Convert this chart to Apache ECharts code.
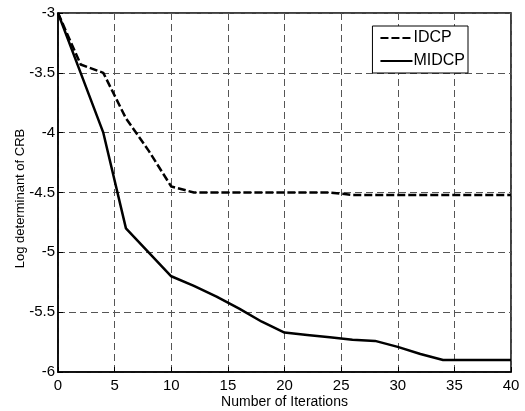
<!DOCTYPE html>
<html>
<head>
<meta charset="utf-8">
<script src="https://cdn.jsdelivr.net/npm/echarts@6/dist/echarts.min.js"></script>
<style>
  html, body { margin: 0; padding: 0; background: #fff; }
</style>
</head>
<body>
<div id="chart" style="width:525px;height:411px"></div>
<script>
// iterations and log det values
var idcpX = [0, 2, 4, 6, 8, 10, 12, 14, 16, 18, 20, 22, 24, 26, 28, 30, 32, 34, 36, 38, 40];
var idcpY = [-3, -3.43, -3.5, -3.88, -4.15, -4.45, -4.5, -4.5, -4.5, -4.5, -4.5, -4.5, -4.5, -4.52, -4.52, -4.52, -4.52, -4.52, -4.52, -4.52, -4.52];
var midcpX = [0, 2, 4, 6, 8, 10, 12, 14, 16, 18, 20, 22, 24, 26, 28, 30, 32, 34, 36, 38, 40];
var midcpY = [-3, -3.5, -4, -4.8, -5.0, -5.2, -5.28, -5.37, -5.47, -5.58, -5.67, -5.69, -5.71, -5.73, -5.74, -5.79, -5.85, -5.9, -5.9, -5.9, -5.9];

function pairs(xs, ys) {
  return xs.map(function (x, i) { return [x, ys[i]]; });
}

var chart = echarts.init(document.getElementById('chart'));
var font = 'Liberation Sans, Arial, sans-serif';
var gridLine = { show: true, lineStyle: { color: '#555', width: 1, type: [7, 4] } };

chart.setOption({
  animation: false,
  textStyle: { fontFamily: font, color: '#000' },
  grid: {
    left: 58, right: 14, top: 13, bottom: 39,
    outerBoundsMode: 'none', containLabel: false,
    show: true, borderColor: '#000', borderWidth: 1.5
  },
  legend: {
    right: 57, top: 26,
    orient: 'vertical',
    itemWidth: 32, itemHeight: 14, itemGap: 7,
    padding: [4, 3, 4, 7],
    backgroundColor: '#fff',
    borderColor: '#000', borderWidth: 1,
    itemStyle: { opacity: 0 },
    textStyle: { fontFamily: font, fontSize: 16, color: '#000', padding: [0, 0, 0, -4] },
    data: ['IDCP', 'MIDCP']
  },
  xAxis: {
    type: 'value', min: 0, max: 40, interval: 5,
    name: 'Number of Iterations', nameLocation: 'middle', nameGap: 23,
    nameMoveOverlap: false,
    nameTextStyle: { fontSize: 14, fontFamily: font, color: '#000' },
    axisLine: { show: true, onZero: false, lineStyle: { color: '#000', width: 1.5 } },
    axisTick: { show: true, inside: true, length: 5, lineStyle: { color: '#000' } },
    axisLabel: { fontSize: 15, fontFamily: font, color: '#000', margin: 6 },
    splitLine: gridLine
  },
  yAxis: {
    type: 'value', min: -6, max: -3, interval: 0.5,
    name: 'Log determinant of CRB', nameLocation: 'middle', nameGap: 31,
    nameMoveOverlap: false,
    nameTextStyle: { fontSize: 13, fontFamily: font, color: '#000', padding: [0, 12, 0, 0] },
    axisLine: { show: true, onZero: false, lineStyle: { color: '#000', width: 1.5 } },
    axisTick: { show: true, inside: true, length: 5, lineStyle: { color: '#000' } },
    axisLabel: { fontSize: 15, fontFamily: font, color: '#000', margin: 3 },
    splitLine: gridLine
  },
  series: [
    {
      name: 'IDCP', type: 'line', showSymbol: false, symbol: 'none',
      lineStyle: { color: '#000', width: 2.5, type: [8, 3] },
      itemStyle: { color: '#000' },
      data: pairs(idcpX, idcpY)
    },
    {
      name: 'MIDCP', type: 'line', showSymbol: false, symbol: 'none',
      lineStyle: { color: '#000', width: 2.5 },
      itemStyle: { color: '#000' },
      data: pairs(midcpX, midcpY)
    }
  ]
});
</script>
</body>
</html>
